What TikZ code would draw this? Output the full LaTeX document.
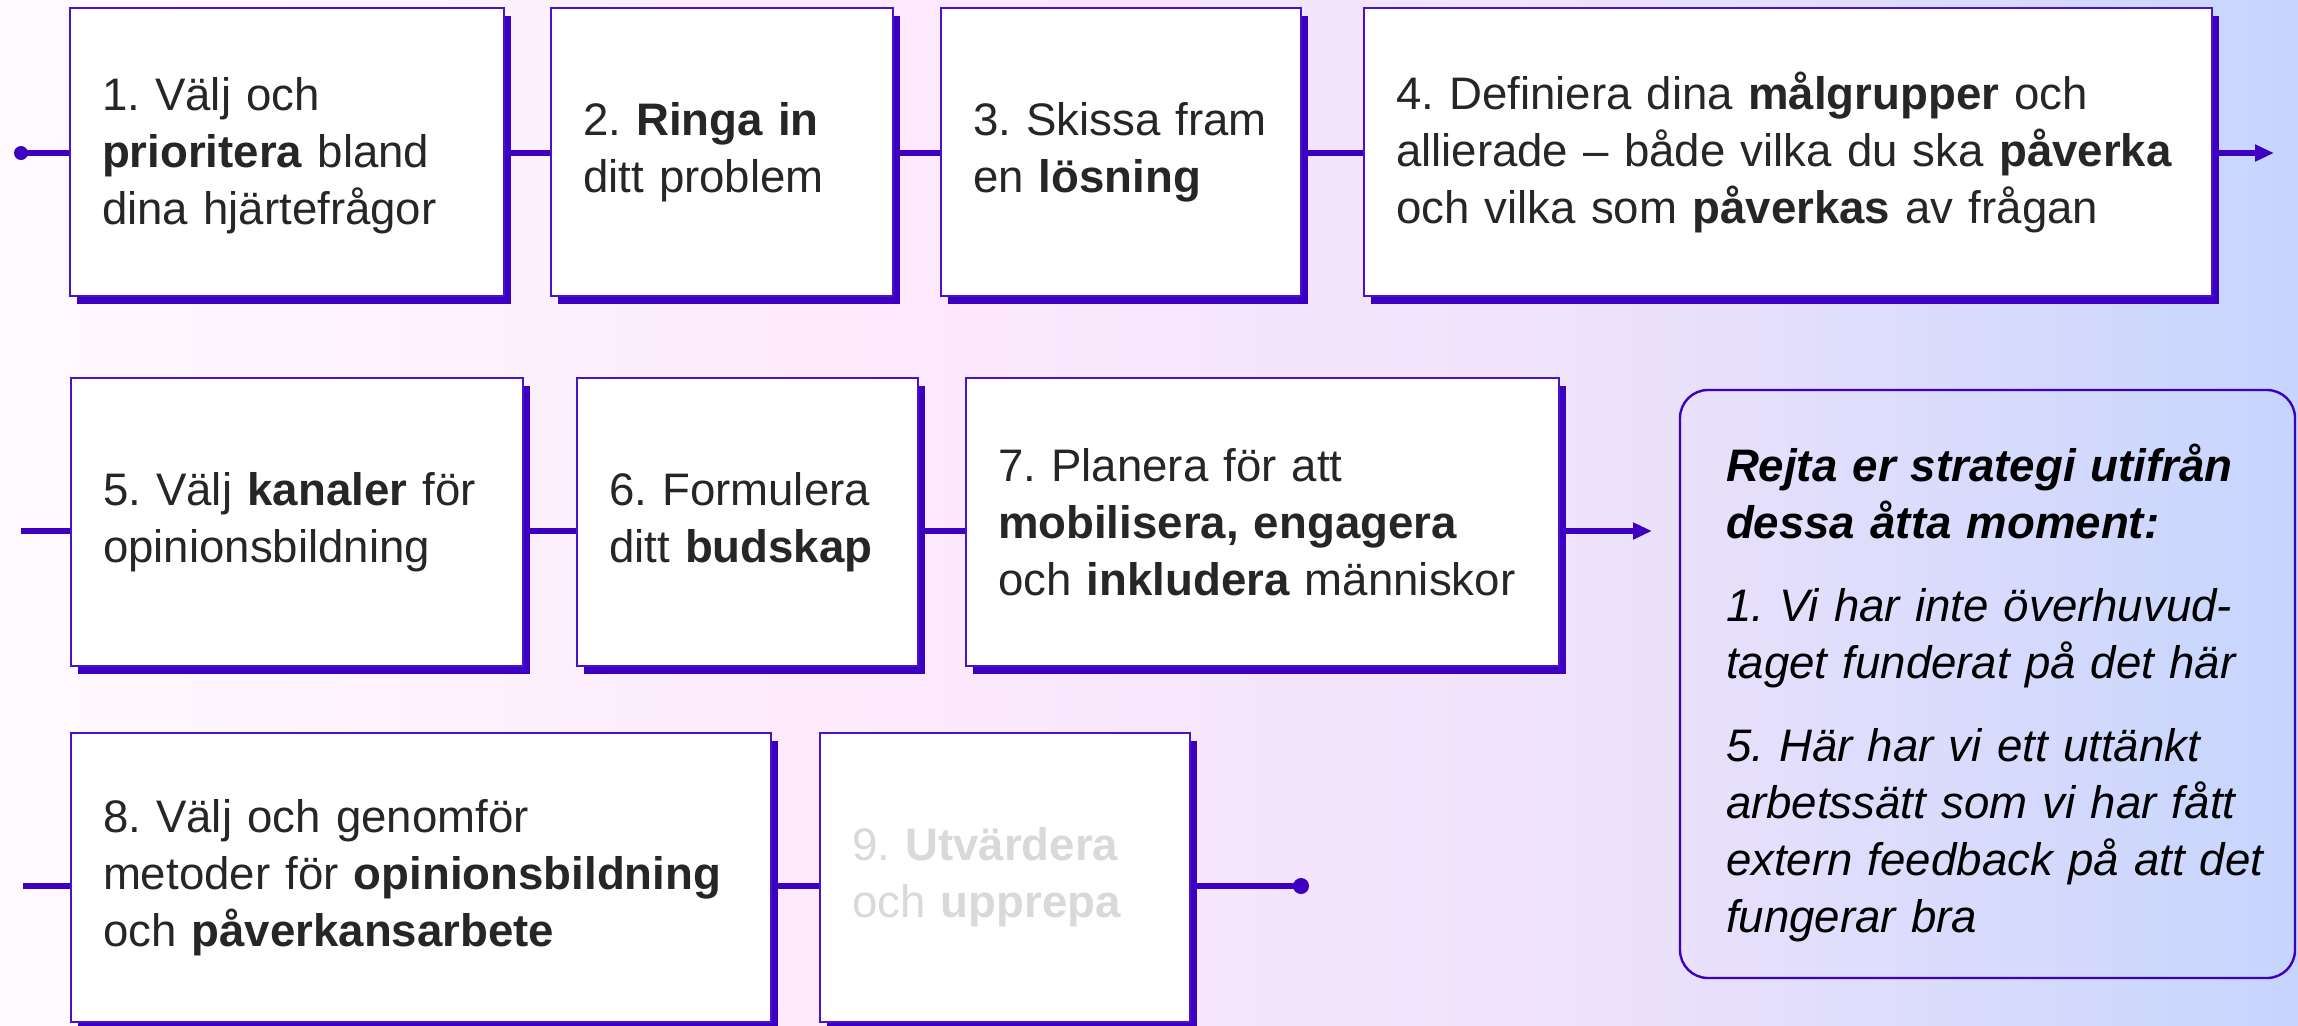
\documentclass[tikz,border=0pt]{standalone}
\usepackage{fontspec}
\setmainfont{Liberation Sans}
\usetikzlibrary{arrows.meta,shadows,calc}
\frenchspacing
\definecolor{vio}{HTML}{3D00C0}
\definecolor{vioB}{HTML}{4A12CC}
\definecolor{txt}{HTML}{262626}
\definecolor{grey9}{HTML}{D9D9D9}
\definecolor{bgA}{HTML}{FEFAFE}
\definecolor{bgB}{HTML}{FDE9FD}
\definecolor{bgC}{HTML}{EEE2FB}
\definecolor{bgD}{HTML}{C6D5FD}
\pgfdeclarehorizontalshading{bgshade}{100bp}{color(0bp)=(bgA); color(25bp)=(bgA); color(44.6bp)=(bgB); color(59.8bp)=(bgC); color(75bp)=(bgD); color(100bp)=(bgD)}
\begin{document}
\frenchspacing
\begin{tikzpicture}[x=0.5pt,y=-0.5pt,
  stepbox/.style={draw=vioB, line width=1.3pt, fill=white, inner xsep=16pt, inner ysep=0pt,
    align=left, text=txt, font=\fontsize{22.8pt}{28.5pt}\selectfont\frenchspacing,
    drop shadow={shadow xshift=3.5pt, shadow yshift=-4pt, opacity=1, fill=vio}},
  conn/.style={draw=vio, line width=3pt},
  tip/.style={-{Triangle[length=9.5pt,width=8pt]}},
]
\useasboundingbox (0,0) rectangle (2298,1025);
\shade[shading=bgshade] (0,0) rectangle (2298,1025);

% row 1
\node[stepbox, minimum width=217pt, minimum height=144pt, text width=185pt] (b1) at (287,152)
  {\mbox{\rule{0pt}{20pt}1. Välj och}\\\mbox{\textbf{prioritera} bland}\\\mbox{dina hjärtefrågor}};
\node[stepbox, minimum width=171pt, minimum height=144pt, text width=139pt] (b2) at (722,152)
  {\mbox{2. \textbf{Ringa in}}\\\mbox{ditt problem}};
\node[stepbox, minimum width=180pt, minimum height=144pt, text width=148pt] (b3) at (1121,152)
  {\mbox{3. Skissa fram}\\\mbox{en \textbf{lösning}}};
\node[stepbox, minimum width=424pt, minimum height=144pt, text width=392pt] (b4) at (1788,152)
  {\mbox{4. Definiera dina \textbf{målgrupper} och}\\\mbox{allierade – både vilka du ska \textbf{påverka}}\\\mbox{och vilka som \textbf{påverkas} av frågan}};

% row 2
\node[stepbox, minimum width=226pt, minimum height=144pt, text width=194pt] (b5) at (297,522)
  {\mbox{5. Välj \textbf{kanaler} för}\\\mbox{opinionsbildning}};
\node[stepbox, minimum width=170.5pt, minimum height=144pt, text width=138.5pt] (b6) at (747.5,522)
  {\mbox{6. Formulera}\\\mbox{ditt \textbf{budskap}}};
\node[stepbox, minimum width=296.5pt, minimum height=144pt, text width=264.5pt] (b7) at (1262.5,522)
  {\mbox{7. Planera för att}\\\mbox{\textbf{mobilisera, engagera}}\\\mbox{och \textbf{inkludera} människor}};

% row 3
\node[stepbox, minimum width=350pt, minimum height=144.5pt, text width=318pt] (b8) at (421,877.5)
  {\mbox{8. Välj och genomför}\\\mbox{metoder för \textbf{opinionsbildning}}\\\mbox{och \textbf{påverkansarbete}}};
\node[stepbox, minimum width=185pt, minimum height=144.5pt, text width=153pt, text=grey9] (b9) at (1005,877.5)
  {\mbox{9. \textbf{Utvärdera}}\\\mbox{och \textbf{upprepa}}};

% rating box
\node[draw=vio, line width=1.2pt, rounded corners=14pt, minimum width=307.5pt, minimum height=294pt,
  text width=261.5pt, inner xsep=23pt, inner ysep=0pt, align=left, text=black,
  font=\fontsize{22.8pt}{28.5pt}\selectfont\itshape\frenchspacing] (rate) at (1987.5,684)
  {\mbox{\rule{0pt}{28pt}\bfseries Rejta er strategi utifrån}\\\mbox{\bfseries dessa åtta moment:}\\[13pt]
   \mbox{1. Vi har inte överhuvud-}\\\mbox{taget funderat på det här}\\[13pt]
   \mbox{5. Här har vi ett uttänkt}\\\mbox{arbetssätt som vi har fått}\\\mbox{extern feedback på att det}\\\mbox{fungerar bra}};

% row coordinates
\coordinate (s1) at (21,153);
\coordinate (e1) at (2274,153);
\coordinate (s2) at (21,531);
\coordinate (e2) at (1652,531);
\coordinate (s3) at (23,886);
\coordinate (e3) at (1301,886);

% connectors row 1
\draw[conn] (s1) -- (b1.west |- s1);
\draw[conn] (b1.east |- s1) -- (b2.west |- s1);
\draw[conn] (b2.east |- s1) -- (b3.west |- s1);
\draw[conn] (b3.east |- s1) -- (b4.west |- s1);
\draw[conn, tip] (b4.east |- s1) -- (e1);
\fill[vio] (s1) circle[radius=3.5pt];

% connectors row 2
\draw[conn] (s2) -- (b5.west |- s2);
\draw[conn] (b5.east |- s2) -- (b6.west |- s2);
\draw[conn] (b6.east |- s2) -- (b7.west |- s2);
\draw[conn, tip] (b7.east |- s2) -- (e2);

% connectors row 3
\draw[conn] (s3) -- (b8.west |- s3);
\draw[conn] (b8.east |- s3) -- (b9.west |- s3);
\draw[conn] (b9.east |- s3) -- (e3);
\fill[vio] (e3) circle[radius=4pt];
\end{tikzpicture}
\end{document}
